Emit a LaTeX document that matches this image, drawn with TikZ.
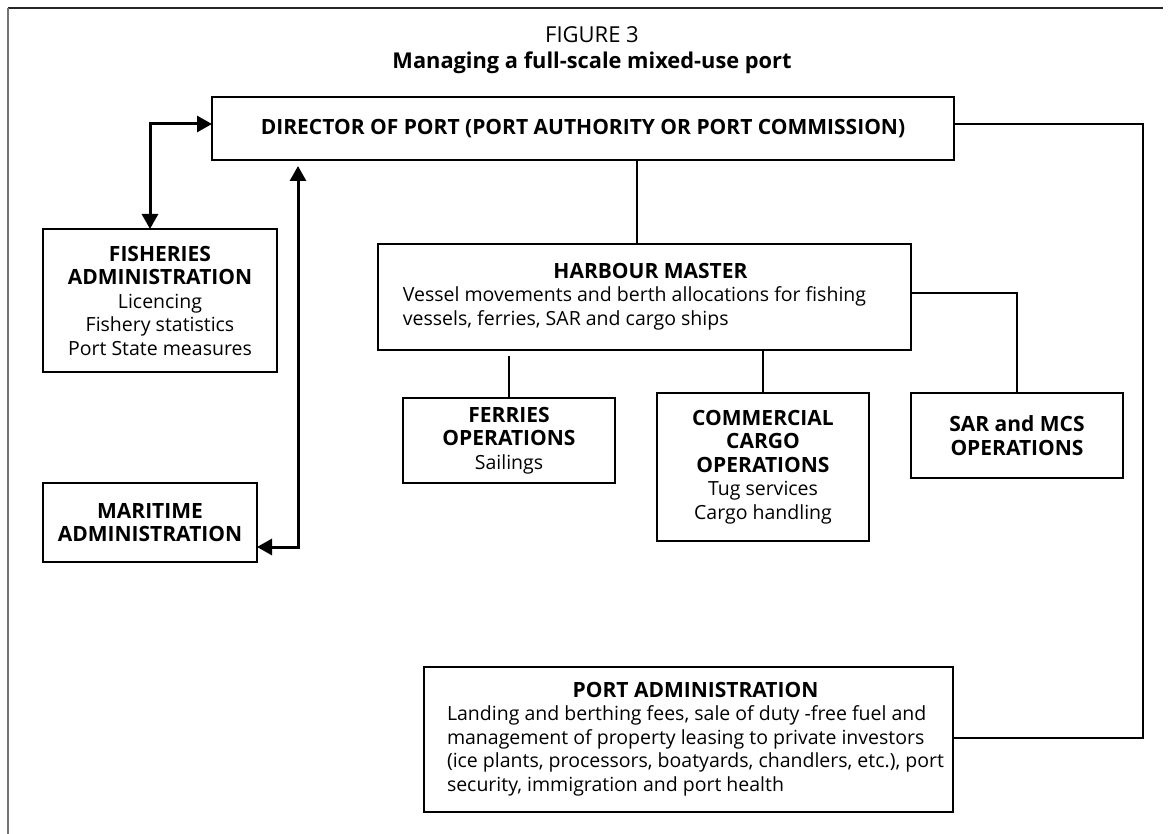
\documentclass[tikz,border=0pt]{standalone}
\usepackage{fontspec}
\setmainfont{Open Sans}
\usetikzlibrary{arrows.meta}
\newcommand{\hd}[1]{{\fontsize{21}{23.5}\selectfont\bfseries #1}}
\begin{document}
\begin{tikzpicture}[x=1pt,y=-1pt,
  box/.style={draw,line width=2.9pt,outer sep=0pt,inner sep=0pt,align=center,
    font=\fontsize{19.5}{23.5}\selectfont},
  link/.style={line width=1.4pt},
  dbl/.style={line width=3pt,{Triangle[length=15pt,width=16pt]}-{Triangle[length=15pt,width=16pt]}},
  title/.style={font=\fontsize{22}{23}\selectfont}]
\useasboundingbox (0,0) rectangle (1168,834);
\fill[white] (0,0) rectangle (1168,834);
\draw[line width=1.2pt,black!85] (8,8) -- (1163,8);
\draw[line width=1.2pt,black!55] (8,8) -- (8,834);

\node[title] (fig) at (592,35) {FIGURE 3};
\node[title,font=\fontsize{21.8}{23}\selectfont\bfseries] (ttl) at (592,63) {Managing a full-scale mixed-use port};

\node[box,minimum width=742pt,minimum height=63pt] (dir) at (583,128.5)
  {\hd{DIRECTOR OF PORT (PORT AUTHORITY OR PORT COMMISSION)}};
\node[box,minimum width=533pt,minimum height=106pt] (hm) at (644.5,297)
  {\begin{tabular}{@{}l@{}}\multicolumn{1}{@{}c@{}}{\hspace{32pt}\hd{HARBOUR MASTER}}\\
   Vessel movements and berth allocations for fishing\\
   vessels, ferries, SAR and cargo ships\end{tabular}\hspace{20pt}};
\node[box,minimum width=234pt,minimum height=143pt] (fish) at (160,300.5)
  {\hd{FISHERIES}\\\hd{ADMINISTRATION}\\Licencing\\Fishery statistics\\Port State measures};
\node[box,minimum width=214pt,minimum height=79pt] (mar) at (150,522.5)
  {\hd{MARITIME}\\\hd{ADMINISTRATION}};
\node[box,minimum width=212pt,minimum height=85pt] (fer) at (509,440.5)
  {\hd{FERRIES}\\\hd{OPERATIONS}\\Sailings};
\node[box,minimum width=212pt,minimum height=148pt] (cargo) at (763,467)
  {\hd{COMMERCIAL}\\\hd{CARGO}\\\hd{OPERATIONS}\\Tug services\\Cargo handling};
\node[box,minimum width=212pt,minimum height=85pt] (sar) at (1017,435.5)
  {\hd{SAR and MCS}\\\hd{OPERATIONS}};
\node[box,minimum width=529pt,minimum height=145pt] (pa) at (688.5,739.5)
  {\hspace{14pt}\begin{tabular}{@{}l@{}}\multicolumn{1}{@{}c@{}}{\hd{PORT ADMINISTRATION}\hspace{14pt}}\\
   Landing and berthing fees, sale of duty -free fuel and\\
   management of property leasing to private investors\\
   (ice plants, processors, boatyards, chandlers, etc.), port\\
   security, immigration and port health\end{tabular}};

\coordinate (fa) at (150,124);
\coordinate (ma) at (298,547);
\coordinate (mt) at (298,166);
\coordinate (r1) at (1143,124);
\coordinate (r2) at (1143,738);
\coordinate (s1) at (1017,293);
\coordinate (f1) at (509,356);

\draw[dbl] (fish.north -| fa) -- (fa) -- (fa -| dir.west);
\draw[dbl] (mar.east |- ma) -- (ma) -- (mt);
\draw[link] (dir.south -| hm.north) ++(-7.5,0) coordinate (d1) -- (d1 |- hm.north);
\draw[link] (dir.east |- r1) -- (r1) -- (r2) -- (r2 -| pa.east);
\draw[link] (hm.east |- s1) -- (s1) -- (sar.north);
\draw[link] (f1) -- (fer.north);
\draw[link] (hm.south -| cargo.north) -- (cargo.north);
\end{tikzpicture}
\end{document}
